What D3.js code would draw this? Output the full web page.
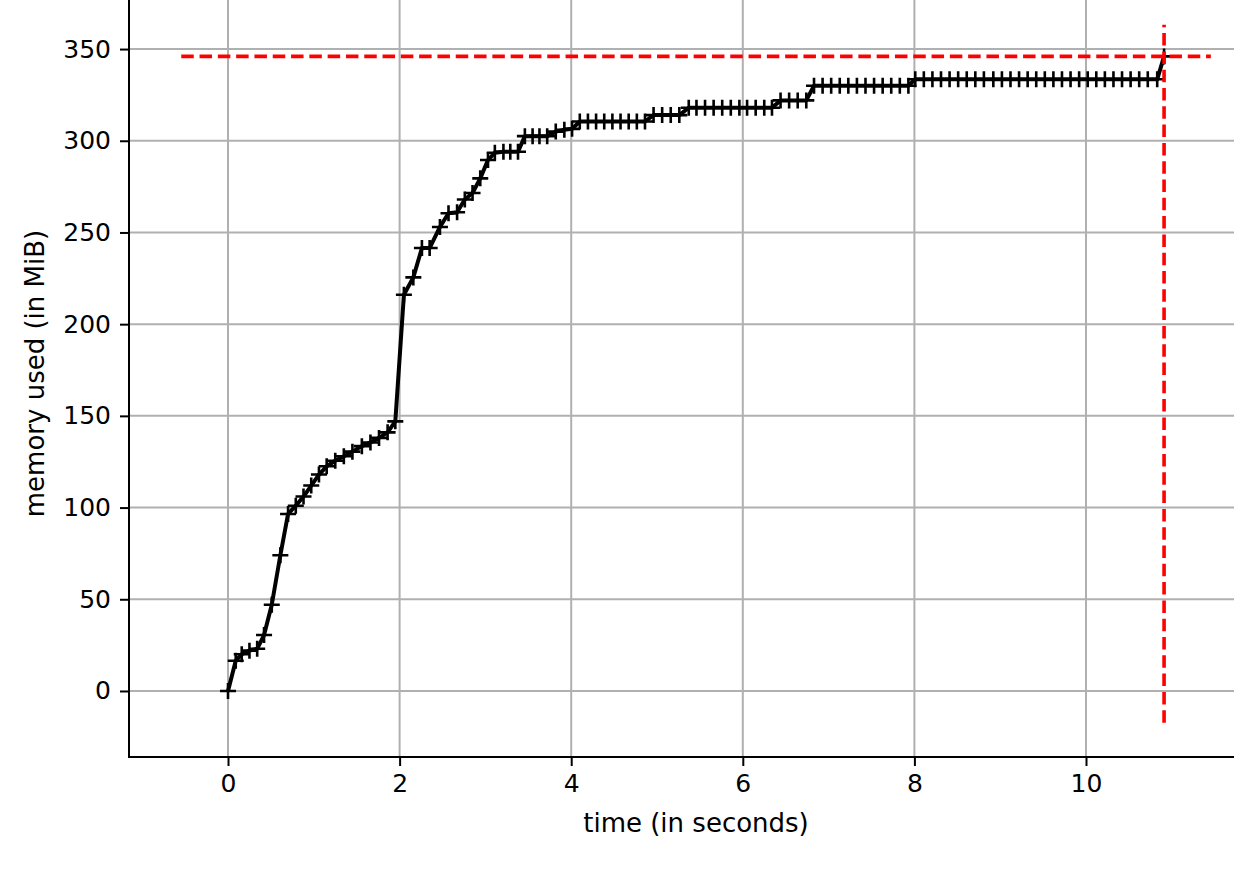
<!DOCTYPE html>
<html>
<head>
<meta charset="utf-8">
<script src="https://cdn.jsdelivr.net/npm/d3@7"></script>
<style>
  html, body { margin: 0; padding: 0; background: #fff; }
  svg { display: block; }
  text { font-family: "DejaVu Sans", sans-serif; fill: #000; }
</style>
</head>
<body>
<svg id="chart" width="1234" height="880"></svg>
<script>
// ---- data ----
const times = [0.00,0.09,0.16,0.25,0.34,0.42,0.51,0.61,0.70,0.79,0.88,0.97,1.06,1.15,1.25,1.35,1.45,1.56,1.66,1.76,
  1.86,1.95,2.05,2.16,2.26,2.35,2.47,2.57,2.67,2.76,2.85,2.94,3.03,3.11,3.21,3.29,3.38,3.46,3.55,3.63,
  3.72,3.82,3.92,4.01,4.10,4.195,4.29,4.385,4.48,4.575,4.67,4.765,4.86,4.96,5.06,5.16,5.26,5.37,5.46,5.56,
  5.66,5.76,5.86,5.96,6.05,6.15,6.25,6.34,6.44,6.54,6.64,6.74,6.83,6.93,7.03,7.13,7.23,7.33,7.43,7.53,
  7.63,7.73,7.83,7.93,8.01,8.11,8.21,8.31,8.41,8.51,8.61,8.71,8.81,8.92,9.02,9.12,9.22,9.32,9.42,9.52,
  9.62,9.72,9.82,9.92,10.02,10.12,10.22,10.32,10.42,10.52,10.62,10.72,10.83,10.91];
const memory = [0,16.5,20,22,23,30.5,47,74,96.5,101,106,112,118,122.5,125.5,128,130.5,133.5,135.5,138,
  141,147,216,225.5,241.5,241.5,253,260.5,261,268,271.5,279.5,289.5,293.5,294,294,294,302.5,302.5,302.5,
  302.5,305,306,306.5,310.5,310.5,310.5,310.5,310.5,310.5,310.5,310.5,310.5,314,314,314,314,318,318,318,
  318,318,318,318,318,318,318,318,322,322,322,322,330,330,330,330,330,330,330,330,
  330,330,330,330,333.5,333.5,333.5,333.5,333.5,333.5,333.5,333.5,333.5,333.5,333.5,333.5,333.5,333.5,333.5,333.5,
  333.5,333.5,333.5,333.5,333.5,333.5,333.5,333.5,333.5,333.5,333.5,333.5,333.5,346];
const maxMem = 346;
const maxMemTime = 10.91;
const hlineSpan = [-0.545, 11.455];
const vlineSpan = [-17.3, 363.3];
const xTicks = [0, 2, 4, 6, 8, 10];
const yTicks = [0, 50, 100, 150, 200, 250, 300, 350];
const xLabel = "time (in seconds)";
const yLabel = "memory used (in MiB)";

// ---- layout ----
const L = 129, R = 1263, T = -10, B = 757;
const FS = 26;
const svg = d3.select("#chart");

const x = d3.scaleLinear().domain([-1.154, 12.063]).range([L, R]);
const y = d3.scaleLinear().domain([-36, 382.2]).range([B, T]);

svg.append("rect").attr("width", 1234).attr("height", 880).attr("fill", "#fff");

const plot = svg.append("g");

// grid
plot.append("g").selectAll("line").data(xTicks).join("line")
  .attr("x1", d => x(d)).attr("x2", d => x(d)).attr("y1", T).attr("y2", B)
  .attr("stroke", "#b0b0b0").attr("stroke-width", 2);
plot.append("g").selectAll("line").data(yTicks).join("line")
  .attr("x1", L).attr("x2", R).attr("y1", d => y(d)).attr("y2", d => y(d))
  .attr("stroke", "#b0b0b0").attr("stroke-width", 2);

const pts = times.map((t, i) => [t, memory[i]]);

// memory line
plot.append("path")
  .attr("d", d3.line().x(d => x(d[0])).y(d => y(d[1]))(pts))
  .attr("fill", "none").attr("stroke", "#000").attr("stroke-width", 4)
  .attr("stroke-linejoin", "round").attr("stroke-linecap", "butt");

// '+' markers
const ms = 8;
plot.append("g").selectAll("path").data(pts).join("path")
  .attr("d", d => {
    const cx = x(d[0]), cy = y(d[1]);
    return `M${cx - ms},${cy}H${cx + ms}M${cx},${cy - ms}V${cy + ms}`;
  })
  .attr("stroke", "#000").attr("stroke-width", 2.6).attr("fill", "none");

// max memory dashed lines
plot.append("line")
  .attr("x1", x(hlineSpan[0])).attr("x2", x(hlineSpan[1]))
  .attr("y1", y(maxMem)).attr("y2", y(maxMem))
  .attr("stroke", "#ff0000").attr("stroke-width", 3.6).attr("stroke-dasharray", "12.5,5.8");
plot.append("line")
  .attr("x1", x(maxMemTime)).attr("x2", x(maxMemTime))
  .attr("y1", y(vlineSpan[0])).attr("y2", y(vlineSpan[1]))
  .attr("stroke", "#ff0000").attr("stroke-width", 3.6).attr("stroke-dasharray", "12.5,5.8");

// spines
svg.append("line").attr("x1", L).attr("x2", L).attr("y1", T).attr("y2", B + 1)
  .attr("stroke", "#000").attr("stroke-width", 2);
svg.append("line").attr("x1", L - 1).attr("x2", R).attr("y1", B).attr("y2", B)
  .attr("stroke", "#000").attr("stroke-width", 2);

// axes (ticks + labels)
const xAxis = d3.axisBottom(x).tickValues(xTicks).tickSize(9).tickPadding(8).tickFormat(d3.format("d"));
const gx = svg.append("g").attr("transform", `translate(0,${B})`).call(xAxis);
gx.select(".domain").remove();
gx.selectAll(".tick line").attr("stroke", "#000").attr("stroke-width", 2);
gx.selectAll(".tick text").attr("font-size", 25).attr("font-family", "DejaVu Sans");

const yAxis = d3.axisLeft(y).tickValues(yTicks).tickSize(9).tickPadding(9).tickFormat(d3.format("d"));
const gy = svg.append("g").attr("transform", `translate(${L},0)`).call(yAxis);
gy.select(".domain").remove();
gy.selectAll(".tick line").attr("stroke", "#000").attr("stroke-width", 2);
gy.selectAll(".tick text").attr("font-size", 25).attr("font-family", "DejaVu Sans");

// axis labels
svg.append("text").attr("x", (L + R) / 2).attr("y", 832)
  .attr("text-anchor", "middle").attr("font-size", FS).text(xLabel);
svg.append("text")
  .attr("transform", `translate(44,${(T + B) / 2}) rotate(-90)`)
  .attr("text-anchor", "middle").attr("font-size", FS).text(yLabel);
</script>
</body>
</html>
